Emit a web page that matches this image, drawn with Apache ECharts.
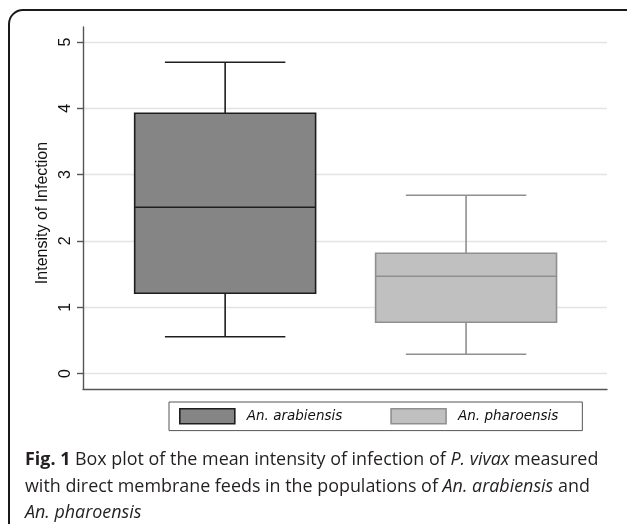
<!DOCTYPE html>
<html>
<head>
<meta charset="utf-8">
<script src="https://cdn.jsdelivr.net/npm/echarts@6/dist/echarts.min.js"></script>
<style>
html,body{margin:0;padding:0;background:#fff;}
#c{width:627px;height:524px;}
</style>
</head>
<body>
<div id="c"></div>
<script>
// ---- data ----
const categories = ['An. arabiensis', 'An. pharoensis'];
const positions = [1, 2];
const lowWhisker = [0.555, 0.29];
const q1 = [1.21, 0.772];
const median = [2.507, 1.466];
const q3 = [3.925, 1.813];
const highWhisker = [4.694, 2.688];
const yTicks = [0, 1, 2, 3, 4, 5];

// ---- styles ----
const fills = ['#858585', '#c0c0c0'];
const strokes = ['#1e1e1e', '#8f8f8f'];
const BOX_HALF = 0.3755;
const CAP_HALF = 0.25;

function renderItem(params, api) {
  const x = api.value(0);
  const lo = api.coord([x, api.value(1)]);
  const b1 = api.coord([x, api.value(2)]);
  const md = api.coord([x, api.value(3)]);
  const b3 = api.coord([x, api.value(4)]);
  const hi = api.coord([x, api.value(5)]);
  const hb = api.size([BOX_HALF, 0])[0];
  const hc = api.size([CAP_HALF, 0])[0];
  const s = params.seriesIndex;
  const ls = { stroke: strokes[s], lineWidth: 1.6, fill: null };
  const cx = lo[0];
  return {
    type: 'group',
    children: [
      { type: 'line', shape: { x1: cx, y1: b3[1], x2: cx, y2: hi[1] }, style: ls },
      { type: 'line', shape: { x1: cx - hc, y1: hi[1], x2: cx + hc, y2: hi[1] }, style: ls },
      { type: 'line', shape: { x1: cx, y1: b1[1], x2: cx, y2: lo[1] }, style: ls },
      { type: 'line', shape: { x1: cx - hc, y1: lo[1], x2: cx + hc, y2: lo[1] }, style: ls },
      { type: 'rect', shape: { x: cx - hb, y: b3[1], width: 2 * hb, height: b1[1] - b3[1] },
        style: { fill: fills[s], stroke: strokes[s], lineWidth: 1.6 } },
      { type: 'line', shape: { x1: cx - hb, y1: md[1], x2: cx + hb, y2: md[1] }, style: ls }
    ]
  };
}

const series = categories.map((name, i) => ({
  name: name,
  type: 'custom',
  z: 10,
  renderItem: renderItem,
  itemStyle: { color: fills[i], borderColor: strokes[i], borderWidth: 1.6 },
  encode: { x: 0, y: [1, 2, 3, 4, 5] },
  data: [[positions[i], lowWhisker[i], q1[i], median[i], q3[i], highWhisker[i]]]
}));

const chart = echarts.init(document.getElementById('c'), null, { renderer: 'canvas' });
chart.setOption({
  animation: false,
  backgroundColor: '#fff',
  grid: { left: 83, right: 20, top: 27, bottom: 135 },
  xAxis: {
    type: 'value', min: 0.41, max: 2.585,
    axisLine: { show: true, onZero: false, lineStyle: { color: '#555', width: 1.4 } },
    axisTick: { show: false }, axisLabel: { show: false }, splitLine: { show: false }
  },
  yAxis: {
    type: 'value', min: -0.234, max: 5.226,
    name: 'Intensity of Infection', nameLocation: 'middle', nameGap: 31,
    nameTextStyle: { fontFamily: 'Liberation Sans', fontSize: 16, color: '#111', padding: [0, 10, 0, 0] },
    axisLine: { show: true, lineStyle: { color: '#555', width: 1.4 } },
    axisTick: { show: true, length: 6, customValues: yTicks, lineStyle: { color: '#555', width: 1.4 } },
    axisLabel: { rotate: 90, margin: 9, customValues: yTicks, fontFamily: 'Liberation Sans', fontSize: 16, color: '#111' },
    splitLine: { show: true, showMinLine: true, showMaxLine: true, lineStyle: { color: '#e4e4e4', width: 1.4 } }
  },
  legend: {
    left: 169, top: 402,
    orient: 'horizontal',
    padding: [6, 24, 6, 10],
    borderColor: '#555', borderWidth: 1,
    itemWidth: 55, itemHeight: 15, itemGap: 48,
    icon: 'rect',
    selectedMode: false,
    textStyle: { fontFamily: 'DejaVu Sans', fontStyle: 'italic', fontSize: 13.5, color: '#111', padding: [0, 0, 0, 7] },
    data: categories.map((n, i) => ({ name: n, itemStyle: { color: fills[i], borderColor: strokes[i], borderWidth: 1.6 } }))
  },
  graphic: [
    { type: 'rect', silent: true, z: 100,
      shape: { x: 9, y: 10, width: 640, height: 560, r: 14 },
      style: { fill: null, stroke: '#1a1a1a', lineWidth: 2 } },
    { type: 'text', left: 25, top: 447, z: 100,
      style: {
        text: '{b|Fig. 1} Box plot of the mean intensity of infection of {i|P. vivax} measured\nwith direct membrane feeds in the populations of {i|An. arabiensis} and\n{i|An. pharoensis}',
        fontFamily: 'Open Sans', fontSize: 17.9, lineHeight: 26.5, fill: '#231f20',
        rich: {
          b: { fontFamily: 'Open Sans', fontSize: 17.9, fontWeight: 'bold', lineHeight: 26.5, fill: '#231f20' },
          i: { fontFamily: 'Open Sans', fontSize: 17.9, fontStyle: 'italic', lineHeight: 26.5, fill: '#231f20' }
        }
      } }
  ],
  series: series
});
</script>
</body>
</html>
